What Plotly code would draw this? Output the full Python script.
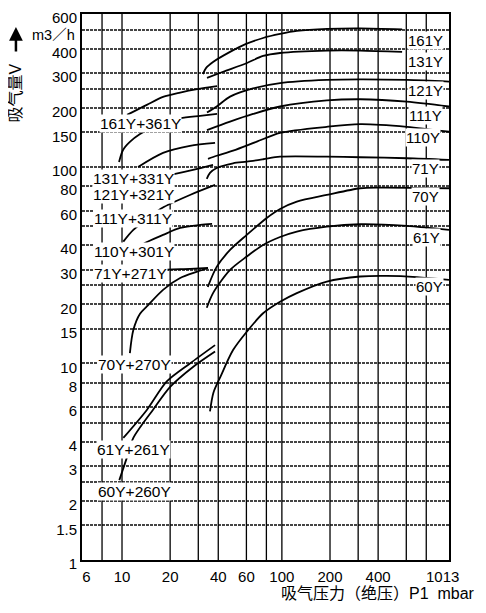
import math
import plotly.graph_objects as go

# suction pressure P1 (mbar) and suction volume V (m3/h)

# single pumps (right-hand family)
p_161y = [32.1, 33.6, 37.1, 47.4, 59.7, 76.3, 97.4, 124, 192, 309, 565]
v_161y = [297, 319, 342, 385, 423, 453, 475, 492, 504, 507, 501]
p_131y = [34.0, 42.9, 60.5, 76.3, 97.4, 192, 309, 565]
v_131y = [284, 305, 338, 367, 380, 391, 391, 385]
p_121y = [34.0, 39.1, 47.4, 66, 97.4, 191, 309, 605, 1110]
v_121y = [189, 203, 228, 251, 267, 277, 279, 277, 272]
p_111y = [34.0, 47.4, 66, 97.4, 191, 309, 605, 1110]
v_111y = [154, 170, 186, 203, 218, 221, 215, 203]
p_110y = [34.5, 39.1, 49.5, 69.7, 97.4, 191, 309, 605, 1110]
v_110y = [110, 114, 121, 134.5, 149, 160, 165, 160, 151]
p_71y = [33.9, 35.5, 39.1, 49.5, 60.3, 76.3, 97.4, 191, 309, 605, 1110]
v_71y = [86.9, 93.2, 98.8, 104.4, 106.4, 109.4, 112.8, 112.8, 112, 110.7, 108.5]
p_70y = [34.4, 39.1, 47.4, 60.3, 80.4, 97.4, 124, 191, 309, 412, 1110]
v_70y = [24.5, 31, 37.8, 45.1, 55, 61.1, 66.6, 72, 77.9, 78.5, 77.9]
p_61y = [33.9, 37.1, 47.4, 60.3, 76.3, 97.4, 124, 191, 309, 605, 1110]
v_61y = [19.2, 22.8, 29.9, 35, 40.1, 44, 46.9, 49.7, 51.1, 50.1, 47.8]
p_60y = [35.5, 37.3, 41.1, 49.5, 60.3, 76.3, 97.4, 124, 191, 309, 453, 699, 1110]
v_60y = [5.7, 7.1, 8.5, 11.7, 14.5, 18, 20.6, 22.8, 26.1, 27.7, 27.9, 27.5, 26.6]

# pump + booster combinations (left-hand family, 10..40 mbar)
p_combo_a = [10.75, 14.3, 18.06, 23.1, 29.5, 39.3]
v_combo_a = [184, 207, 227, 239, 249, 258]
p_combo_b = [9.58, 10.15, 11.2, 12.96, 17.3, 23.1, 30.8, 39.3]
v_combo_b = [106, 122, 134, 147, 166, 177, 182, 186]
p_combo_c = [12.6, 18.06, 26.6, 38.2]
v_combo_c = [100, 118, 128, 132.5]
p_combo_d = [17.3, 21.5, 27.8, 37.1]
v_combo_d = [89, 92.1, 96.5, 102.4]
p_combo_e = [10.19, 11.77, 14.97, 17.8, 26.6, 38.2]
v_combo_e = [41.7, 47.8, 55.7, 61.8, 72, 81]
p_combo_f = [12.6, 13.9, 18.06, 23.1, 30.8, 36.6]
v_combo_f = [38.7, 41, 45.1, 48.9, 50.7, 51.3]
p_combo_g = [15, 17.3, 26.6, 34.5]
v_combo_g = [29.4, 29.9, 30.3, 30.6]
p_combo_h = [11.2, 11.77, 12.96, 14.3, 18.06, 23.1, 29.5, 34.5]
v_combo_h = [11.3, 14.8, 17.9, 19.5, 23.7, 27.2, 29.3, 30.6]
p_combo_i = [10.19, 14.3, 19.05, 26.6, 38.2]
v_combo_i = [4.18, 5.8, 8.1, 10, 12.4]
p_combo_j = [9.62, 10.7, 11.77, 15.6, 20, 27.8, 38.2]
v_combo_j = [2.55, 3.3, 4.18, 5.8, 7.6, 9.6, 11.5]

# curve labels
left_labels = ["161Y+361Y", "131Y+331Y", "121Y+321Y", "111Y+311Y", "110Y+301Y",
               "71Y+271Y", "70Y+270Y", "61Y+261Y", "60Y+260Y"]
left_label_p = [13.06, 11.84, 11.84, 11.72, 11.84, 11.38, 11.89, 11.77, 11.94]
left_label_v = [166, 86.9, 72.0, 54.7, 37.2, 28.7, 9.83, 3.63, 2.23]
right_labels = ["161Y", "131Y", "121Y", "111Y", "110Y", "71Y", "70Y", "61Y", "60Y"]
right_label_p = [793, 787, 787, 787, 765, 787, 787, 799, 834]
right_label_v = [438, 342, 243.6, 181.8, 141.3, 98.3, 70.4, 44, 24.5]

# axes
x_tick_vals = [6, 10, 20, 40, 60, 100, 200, 400, 1013]
grid_p = [7.5, 10, 20, 30, 40, 60, 80, 100, 200, 300, 400, 600, 800]
y_grid_vals = [1, 1.5, 2, 2.5, 3, 4, 5, 6, 8, 10, 15, 20, 25, 30, 40, 50,
               60, 80, 100, 150, 200, 250, 300, 400, 500, 600]
y_labelled = [1, 1.5, 2, 3, 4, 6, 8, 10, 15, 20, 30, 40, 60, 80, 100, 150,
              200, 300, 400, 600]

FONT = "Liberation Sans, Arial, Noto Sans CJK SC"

fig = go.Figure()

# vertical grid lines (irregular set, so drawn as one trace)
gx, gy = [], []
for p in grid_p:
    gx += [p, p, None]
    gy += [1, 600, None]
fig.add_trace(go.Scatter(x=gx, y=gy, mode="lines", hoverinfo="skip",
                         line=dict(color="black", width=1.3)))

curves = [
    (p_161y, v_161y), (p_131y, v_131y), (p_121y, v_121y), (p_111y, v_111y),
    (p_110y, v_110y), (p_71y, v_71y), (p_70y, v_70y), (p_61y, v_61y),
    (p_60y, v_60y),
    (p_combo_a, v_combo_a), (p_combo_b, v_combo_b), (p_combo_c, v_combo_c),
    (p_combo_d, v_combo_d), (p_combo_e, v_combo_e), (p_combo_f, v_combo_f),
    (p_combo_g, v_combo_g), (p_combo_h, v_combo_h), (p_combo_i, v_combo_i),
    (p_combo_j, v_combo_j),
]
for px, vy in curves:
    fig.add_trace(go.Scatter(
        x=px, y=vy, mode="lines",
        line=dict(color="black", width=1.8, shape="spline", smoothing=0.8),
        hovertemplate="P1 %{x} mbar<br>V %{y} m3/h<extra></extra>"
    ))

annotations = []
for txt, p, v in zip(left_labels, left_label_p, left_label_v):
    annotations.append(dict(x=math.log10(p), y=math.log10(v), xref="x", yref="y",
                            text=txt, showarrow=False, bgcolor="white", borderpad=0,
                            font=dict(family=FONT, size=15.5, color="black")))
for txt, p, v in zip(right_labels, right_label_p, right_label_v):
    annotations.append(dict(x=math.log10(p), y=math.log10(v), xref="x", yref="y",
                            text=txt, showarrow=False, bgcolor="white", borderpad=0,
                            font=dict(family=FONT, size=15, color="black")))

# axis titles (the y title is written upwards with an arrow above it)
annotations += [
    dict(x=-0.18, y=0.856, xref="paper", yref="paper", text="吸气量V",
         textangle=-90, showarrow=False, xanchor="center", yanchor="middle",
         font=dict(family=FONT, size=16, color="black")),
    dict(x=-0.18, y=0.976, xref="paper", yref="paper", text="", showarrow=True,
         ax=0, ay=26, arrowhead=2, arrowsize=1.1, arrowwidth=2.5, arrowcolor="black"),
    dict(x=-0.0136, y=0.962, xref="paper", yref="paper", text="m3／h",
         xanchor="right", yanchor="middle", showarrow=False,
         font=dict(family=FONT, size=14.5, color="black")),
    dict(x=1.076, y=-0.062, xref="paper", yref="paper",
         text="吸气压力（绝压）P1\u00a0 mbar", xanchor="right", yanchor="middle",
         showarrow=False, font=dict(family=FONT, size=16, color="black")),
]

# the page adds an 8px body margin, so the figure is sized to fit inside it
fig.update_layout(
    width=470, height=597,
    margin=dict(l=74, r=29, t=6, b=45),
    plot_bgcolor="white", paper_bgcolor="white",
    showlegend=False,
    annotations=annotations,
    font=dict(family=FONT, size=15, color="black"),
)
fig.update_xaxes(
    type="log", range=[math.log10(5.62), math.log10(1110)],
    tickvals=x_tick_vals, ticktext=[str(v) for v in x_tick_vals],
    ticklabelstandoff=2, ticklabeloverflow="allow",
    showgrid=False, zeroline=False, automargin=False,
    showline=True, mirror=True, linecolor="black", linewidth=2,
)
fig.update_yaxes(
    type="log", range=[0, math.log10(600)],
    tickvals=y_grid_vals,
    ticktext=[("%g" % v) if v in y_labelled else "" for v in y_grid_vals],
    ticklabelshift=4, ticklabeloverflow="allow",
    showgrid=True, gridcolor="#444", gridwidth=1.5, griddash="3px,1px",
    zeroline=False, automargin=False,
    showline=True, mirror=True, linecolor="black", linewidth=2,
)

fig.write_html("out.html")
